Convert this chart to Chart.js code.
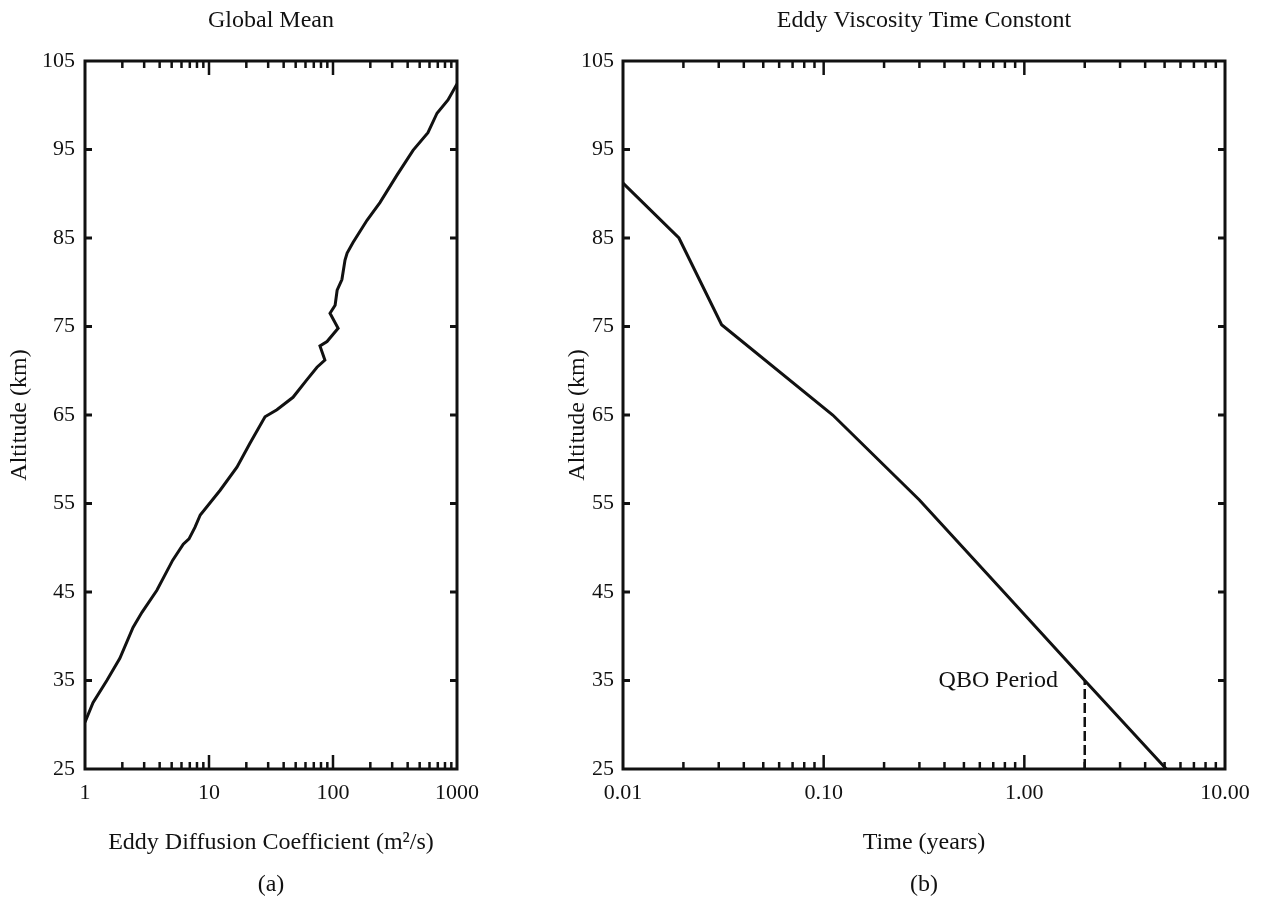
<!DOCTYPE html>
<html>
<head>
<meta charset="utf-8">
<title>Eddy diffusion and time constant</title>
<script src="https://cdn.jsdelivr.net/npm/chart.js@4.4.1/dist/chart.umd.min.js"></script>
<style>
  body { margin: 0; background: #fff; }
  #page { position: relative; width: 1262px; height: 900px; }
  canvas { position: absolute; top: 0; }
  #leftChart { left: 0; }
  #rightChart { left: 540px; }
</style>
</head>
<body>
<div id="page">
  <canvas id="leftChart" width="540" height="900"></canvas>
  <canvas id="rightChart" width="722" height="900"></canvas>
</div>
<script>
// ===== Data =====
// (a) Global mean eddy diffusion coefficient (m2/s) vs altitude (km)
const LEFT_K = [1.0, 1.16, 1.5, 1.91, 2.44, 2.88, 3.8, 5.1, 6.2, 6.9, 7.7, 8.5, 12.3, 16.8, 21.4, 28.3, 35.3, 47.6, 61.7, 74.3, 86, 78.5, 89.5, 110, 94.6, 104, 108, 118, 125, 130, 145, 188, 239, 328, 442, 583, 690, 846, 1000];
const LEFT_ALT = [30.3, 32.5, 35.0, 37.5, 41.0, 42.7, 45.2, 48.6, 50.4, 51.0, 52.3, 53.7, 56.5, 59.1, 61.8, 64.8, 65.6, 67.0, 69.0, 70.4, 71.2, 72.8, 73.3, 74.8, 76.5, 77.4, 79.1, 80.3, 82.5, 83.3, 84.5, 87.0, 89.0, 92.1, 94.9, 96.9, 99.1, 100.6, 102.4];

// (b) Eddy viscosity time constant (years) vs altitude (km)
const RIGHT_TIME = [0.01, 0.019, 0.031, 0.111, 0.3, 0.79, 2.0, 5.1];
const RIGHT_ALT = [91.2, 85, 75.2, 65, 55.4, 45, 35, 25];

// QBO period marker
const QBO_TIME = [2.0, 2.0];
const QBO_ALT = [25, 35];
const QBO_LABEL = "QBO Period";
const QBO_LABEL_AT = [1.47, 35];

// Tick labels
const ALT_TICKS = [25, 35, 45, 55, 65, 75, 85, 95, 105];
const LEFT_X_TICKS = [1, 10, 100, 1000];
const LEFT_X_LABELS = ["1", "10", "100", "1000"];
const RIGHT_X_TICKS = [0.01, 0.1, 1, 10];
const RIGHT_X_LABELS = ["0.01", "0.10", "1.00", "10.00"];

const INK = "#111";
const SERIF = "'Liberation Serif', 'DejaVu Serif', serif";

// ===== Frame with inward ticks (top/bottom log minors, left/right majors) =====
const frameTicks = {
  id: "frameTicks",
  afterDatasetsDraw(chart) {
    const { ctx, chartArea: a, scales: { x, y } } = chart;
    const seg = (x1, y1, x2, y2) => { ctx.beginPath(); ctx.moveTo(x1, y1); ctx.lineTo(x2, y2); ctx.stroke(); };
    ctx.save();
    ctx.strokeStyle = INK;
    ctx.lineWidth = 3;
    ctx.strokeRect(a.left, a.top, a.right - a.left, a.bottom - a.top);

    ctx.lineWidth = 2.5;
    const lo = Math.floor(Math.log10(x.min) + 1e-9);
    const hi = Math.ceil(Math.log10(x.max) - 1e-9);
    for (let k = lo; k < hi; k++) {
      for (let d = 1; d <= 9; d++) {
        const v = d * Math.pow(10, k);
        if (v <= x.min * 1.0001 || v >= x.max * 0.9999) continue;
        const px = x.getPixelForValue(v);
        const len = d === 1 ? 14 : 7;
        seg(px, a.bottom, px, a.bottom - len);
        seg(px, a.top, px, a.top + len);
      }
    }

    ctx.lineWidth = 3;
    ALT_TICKS.forEach(t => {
      if (t <= y.min || t >= y.max) return;
      const py = y.getPixelForValue(t);
      seg(a.left, py, a.left + 7, py);
      seg(a.right, py, a.right - 7, py);
    });
    ctx.restore();
  }
};

// ===== "QBO Period" annotation =====
const qboLabel = {
  id: "qboLabel",
  afterDatasetsDraw(chart) {
    if (chart.canvas.id !== "rightChart") return;
    const { ctx, scales: { x, y } } = chart;
    ctx.save();
    ctx.fillStyle = INK;
    ctx.font = "24px " + SERIF;
    ctx.textAlign = "right";
    ctx.textBaseline = "middle";
    ctx.fillText(QBO_LABEL, x.getPixelForValue(QBO_LABEL_AT[0]), y.getPixelForValue(QBO_LABEL_AT[1]));
    ctx.restore();
  }
};

function toPoints(xs, ys) {
  return xs.map((v, i) => ({ x: v, y: ys[i] }));
}

function buildOptions(cfg) {
  return {
    responsive: false,
    animation: false,
    layout: { padding: { left: 0, right: cfg.padRight, top: 0, bottom: 0 } },
    plugins: {
      legend: { display: false },
      tooltip: { enabled: false },
      title: {
        display: true, text: cfg.title, fullSize: false, color: INK,
        font: { family: SERIF, size: 24, weight: "normal", lineHeight: 1.2 },
        padding: { top: 6, bottom: 26.2 }
      },
      subtitle: {
        display: true, text: cfg.panel, position: "bottom", fullSize: false, color: INK,
        font: { family: SERIF, size: 24, weight: "normal", lineHeight: 1.2 },
        padding: { top: 0, bottom: 1 }
      }
    },
    scales: {
      x: {
        type: "logarithmic",
        position: "bottom",
        min: cfg.xTicks[0],
        max: cfg.xTicks[cfg.xTicks.length - 1],
        afterBuildTicks: axis => { axis.ticks = cfg.xTicks.map(v => ({ value: v })); },
        afterFit: axis => { axis.height = 101.2; },
        grid: { display: false, drawTicks: false },
        border: { display: false },
        ticks: {
          autoSkip: false, maxRotation: 0, padding: 11, color: INK,
          font: { family: SERIF, size: 22 },
          callback: (v, i) => cfg.xLabels[i]
        },
        title: {
          display: true, text: cfg.xTitle, color: INK,
          font: { family: SERIF, size: 24, lineHeight: 1.2 },
          padding: { top: 0, bottom: 12.8 }
        }
      },
      y: {
        type: "linear",
        min: ALT_TICKS[0],
        max: ALT_TICKS[ALT_TICKS.length - 1],
        afterBuildTicks: axis => { axis.ticks = ALT_TICKS.map(v => ({ value: v })); },
        afterFit: axis => { axis.width = cfg.yWidth; },
        grid: { display: false, drawTicks: false },
        border: { display: false },
        ticks: { padding: cfg.yPad, color: INK, font: { family: SERIF, size: 22 } },
        title: {
          display: true, text: "Altitude (km)", color: INK,
          font: { family: SERIF, size: 24, lineHeight: 1.2 },
          padding: { top: cfg.yTitlePad, bottom: 0 }
        }
      }
    }
  };
}

// ===== (a) Global Mean =====
new Chart(document.getElementById("leftChart").getContext("2d"), {
  type: "line",
  data: {
    datasets: [{
      data: toPoints(LEFT_K, LEFT_ALT),
      borderColor: INK, borderWidth: 3, pointRadius: 0, tension: 0, fill: false
    }]
  },
  options: buildOptions({
    title: "Global Mean",
    panel: "(a)",
    xTitle: "Eddy Diffusion Coefficient (m\u00B2/s)",
    xTicks: LEFT_X_TICKS,
    xLabels: LEFT_X_LABELS,
    padRight: 83,
    yWidth: 85,
    yPad: 10,
    yTitlePad: 5.6
  }),
  plugins: [frameTicks]
});

// ===== (b) Eddy Viscosity Time Constant =====
new Chart(document.getElementById("rightChart").getContext("2d"), {
  type: "line",
  data: {
    datasets: [
      {
        data: toPoints(RIGHT_TIME, RIGHT_ALT),
        borderColor: INK, borderWidth: 3, pointRadius: 0, tension: 0, fill: false
      },
      {
        data: toPoints(QBO_TIME, QBO_ALT),
        borderColor: INK, borderWidth: 2.5, borderDash: [10, 4], pointRadius: 0, tension: 0, fill: false
      }
    ]
  },
  options: buildOptions({
    title: "Eddy Viscosity Time Constont",
    panel: "(b)",
    xTitle: "Time (years)",
    xTicks: RIGHT_X_TICKS,
    xLabels: RIGHT_X_LABELS,
    padRight: 37,
    yWidth: 83,
    yPad: 9,
    yTitlePad: 23.6
  }),
  plugins: [frameTicks, qboLabel]
});
</script>
</body>
</html>
